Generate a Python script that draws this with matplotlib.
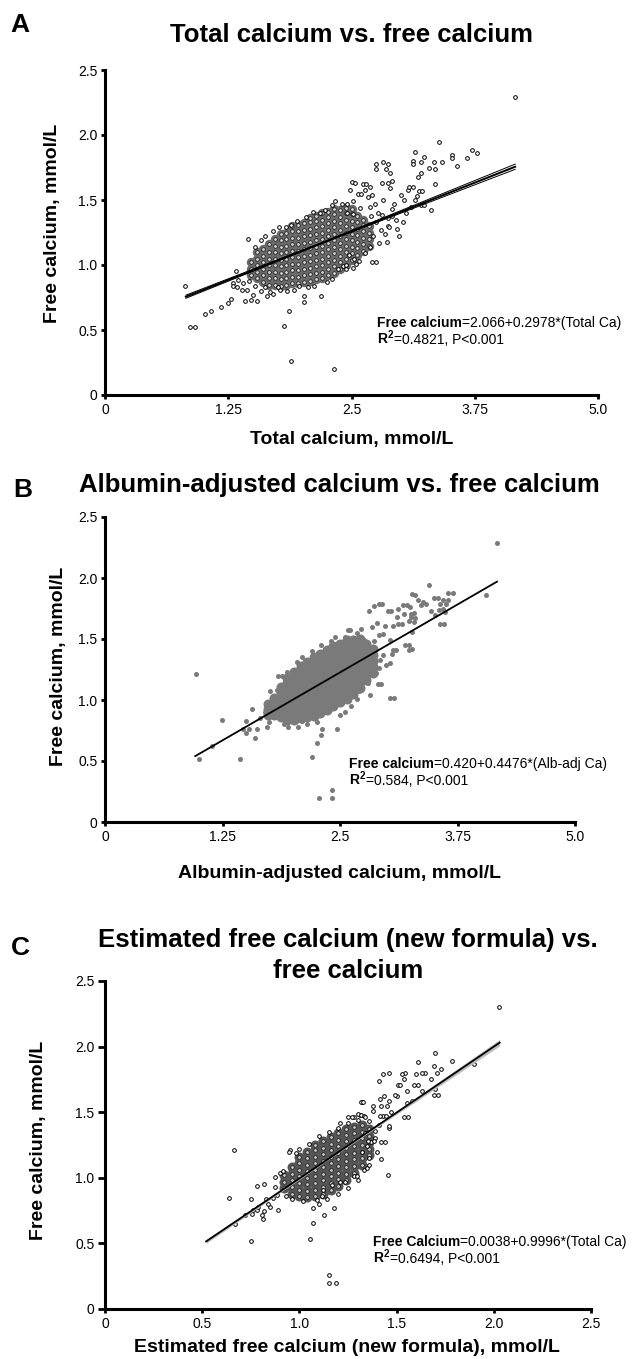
import matplotlib
matplotlib.use('Agg')
import matplotlib.pyplot as plt

plt.rcParams['font.family'] = ['Liberation Sans', 'DejaVu Sans']
plt.rcParams['mathtext.fontset'] = 'custom'
plt.rcParams['mathtext.rm'] = 'Liberation Sans'
plt.rcParams['mathtext.bf'] = 'Liberation Sans:bold'

W, H = 632, 1359

# ---------------- panel A: total calcium vs free calcium ----------------
# dense centre of the cloud, one list of free-Ca values per total-Ca column
a_core_cols = [1.48, 1.54, 1.60, 1.66, 1.72, 1.78, 1.84, 1.90, 1.96, 2.02, 2.08,
               2.14, 2.20, 2.26, 2.32, 2.38, 2.44, 2.50, 2.56, 2.62, 2.68]
a_core_ys = [
    [0.92, 0.97, 1.02],
    [0.90, 0.95, 1.00, 1.05, 1.10],
    [0.87, 0.92, 0.97, 1.02, 1.07, 1.12],
    [0.85, 0.90, 0.95, 1.00, 1.05, 1.10, 1.16],
    [0.85, 0.90, 0.95, 1.00, 1.05, 1.10, 1.15, 1.20],
    [0.84, 0.89, 0.94, 0.99, 1.04, 1.09, 1.14, 1.19, 1.24],
    [0.85, 0.90, 0.95, 1.00, 1.05, 1.10, 1.15, 1.20, 1.25],
    [0.86, 0.91, 0.96, 1.01, 1.06, 1.11, 1.16, 1.21, 1.26, 1.30],
    [0.86, 0.91, 0.96, 1.01, 1.06, 1.11, 1.16, 1.21, 1.26, 1.31],
    [0.87, 0.92, 0.97, 1.02, 1.07, 1.12, 1.17, 1.22, 1.27, 1.32],
    [0.88, 0.93, 0.98, 1.03, 1.08, 1.13, 1.18, 1.23, 1.28, 1.33, 1.36],
    [0.89, 0.94, 0.99, 1.04, 1.09, 1.14, 1.19, 1.24, 1.29, 1.34, 1.38],
    [0.90, 0.95, 1.00, 1.05, 1.10, 1.15, 1.20, 1.25, 1.30, 1.35, 1.40],
    [0.92, 0.97, 1.02, 1.07, 1.12, 1.17, 1.22, 1.27, 1.32, 1.37, 1.41],
    [0.94, 0.99, 1.04, 1.09, 1.14, 1.19, 1.24, 1.29, 1.34, 1.39, 1.43],
    [0.97, 1.02, 1.07, 1.12, 1.17, 1.22, 1.27, 1.32, 1.37, 1.42],
    [1.00, 1.05, 1.10, 1.15, 1.20, 1.25, 1.30, 1.35, 1.40, 1.44],
    [1.04, 1.09, 1.14, 1.19, 1.24, 1.29, 1.34, 1.39, 1.43],
    [1.08, 1.13, 1.18, 1.23, 1.28, 1.33, 1.38],
    [1.11, 1.16, 1.21, 1.26, 1.31, 1.35],
    [1.15, 1.20, 1.25, 1.30],
]
# separate points around the centre
a_x = [0.81, 0.86, 0.91, 1.01, 1.08, 1.18, 1.25, 1.28, 1.33, 1.30, 1.30, 1.35, 1.39, 1.42,
       1.48, 1.54, 1.50, 1.44, 1.34, 1.45, 1.64, 1.67, 1.77, 1.82, 1.87, 1.89, 1.97, 2.02,
       2.02, 2.19, 2.32, 2.41, 2.36, 2.47, 2.44, 2.44, 1.40, 1.46, 1.52, 1.58, 1.62, 1.70,
       1.75, 1.85, 1.92, 2.06, 2.12, 2.25, 2.30, 2.52, 2.58, 1.52, 1.58, 1.62, 1.70, 1.76,
       1.84, 1.89, 1.95, 2.04, 2.11, 2.18, 2.23, 2.30, 2.33, 2.40, 2.45, 2.45, 2.52, 2.52,
       2.48, 2.50, 2.54, 2.57, 2.59, 2.62, 2.65, 2.60, 2.64, 2.67, 2.69, 2.69, 2.71, 2.72,
       2.69, 2.64, 2.53, 2.55, 2.71, 2.75, 2.81, 2.82, 2.81, 2.84, 2.87, 2.87, 2.88, 2.78,
       2.75, 2.89, 2.91, 2.91, 2.98, 3.00, 3.03, 3.07, 3.08, 3.12, 3.16, 3.18, 3.20, 3.22,
       3.24, 3.31, 3.35, 2.75, 2.82, 2.87, 2.75, 2.85, 2.89, 2.91, 2.87, 3.14, 3.24, 3.12,
       3.12, 3.20, 3.34, 3.42, 3.29, 3.35, 3.57, 3.20, 3.17, 3.39, 3.72, 3.77, 3.52, 3.52,
       3.67, 4.16, 2.95, 3.05, 3.10, 2.96, 3.02, 2.93, 3.14, 2.86, 2.80, 2.77, 2.74, 2.70]
a_y = [0.84, 0.52, 0.52, 0.62, 0.65, 0.68, 0.705, 0.74, 0.955, 0.86, 0.84, 0.885, 0.81, 0.72,
       0.73, 0.725, 0.77, 0.81, 0.83, 1.20, 0.76, 0.795, 0.81, 0.53, 0.65, 0.26, 0.84, 0.76,
       0.715, 0.76, 0.20, 0.99, 0.97, 1.08, 1.00, 0.97, 0.86, 0.88, 0.84, 0.80, 0.83, 0.78,
       0.83, 0.80, 0.81, 0.83, 0.84, 0.87, 0.89, 0.98, 1.03, 1.14, 1.19, 1.22, 1.26, 1.29,
       1.29, 1.31, 1.34, 1.37, 1.41, 1.40, 1.42, 1.46, 1.49, 1.47, 1.47, 1.40, 1.39, 1.49,
       1.58, 1.64, 1.63, 1.55, 1.435, 1.62, 1.62, 1.55, 1.58, 1.525, 1.45, 1.60, 1.54, 1.22,
       1.14, 1.09, 1.05, 1.01, 1.02, 1.33, 1.385, 1.50, 1.63, 1.24, 1.30, 1.36, 1.29, 1.17,
       1.025, 1.59, 1.43, 1.38, 1.22, 1.54, 1.50, 1.58, 1.60, 1.60, 1.53, 1.57, 1.46, 1.57,
       1.46, 1.42, 1.62, 1.78, 1.79, 1.78, 1.735, 1.735, 1.705, 1.65, 1.63, 1.87, 1.83, 1.80,
       1.78, 1.79, 1.79, 1.79, 1.75, 1.74, 1.76, 1.705, 1.675, 1.95, 1.885, 1.865, 1.846, 1.826,
       1.82, 2.295, 1.35, 1.40, 1.45, 1.28, 1.33, 1.47, 1.50, 1.18, 1.27, 1.40, 1.47, 1.38]
a_fit_x = [0.82, 2.20, 4.16]
a_fit_y = [0.756, 1.169, 1.756]
a_ci_lo = [0.744, 1.166, 1.736]
a_ci_hi = [0.768, 1.172, 1.776]

# ---------------- panel B: albumin-adjusted calcium vs free calcium ----------------
b_core_cols = [1.73, 1.80, 1.87, 1.94, 2.01, 2.08, 2.15, 2.22, 2.29, 2.36, 2.43,
               2.50, 2.57, 2.64, 2.71, 2.78, 2.85]
b_core_ys = [
    [0.88, 0.93, 0.97],
    [0.88, 0.93, 0.98, 1.02],
    [0.86, 0.91, 0.96, 1.01, 1.06, 1.11],
    [0.84, 0.89, 0.94, 0.99, 1.04, 1.09, 1.14, 1.18],
    [0.84, 0.89, 0.94, 0.99, 1.04, 1.09, 1.14, 1.19, 1.23],
    [0.85, 0.90, 0.95, 1.00, 1.05, 1.10, 1.15, 1.20, 1.25, 1.28],
    [0.86, 0.91, 0.96, 1.01, 1.06, 1.11, 1.16, 1.21, 1.26, 1.31],
    [0.87, 0.92, 0.97, 1.02, 1.07, 1.12, 1.17, 1.22, 1.27, 1.32, 1.35],
    [0.89, 0.94, 0.99, 1.04, 1.09, 1.14, 1.19, 1.24, 1.29, 1.34, 1.38],
    [0.92, 0.97, 1.02, 1.07, 1.12, 1.17, 1.22, 1.27, 1.32, 1.37, 1.41],
    [0.95, 1.00, 1.05, 1.10, 1.15, 1.20, 1.25, 1.30, 1.35, 1.40, 1.44],
    [0.98, 1.03, 1.08, 1.13, 1.18, 1.23, 1.28, 1.33, 1.38, 1.43, 1.46],
    [1.01, 1.06, 1.11, 1.16, 1.21, 1.26, 1.31, 1.36, 1.41, 1.46, 1.49],
    [1.05, 1.10, 1.15, 1.20, 1.25, 1.30, 1.35, 1.40, 1.45, 1.49],
    [1.10, 1.15, 1.20, 1.25, 1.30, 1.35, 1.40, 1.45, 1.50],
    [1.16, 1.21, 1.26, 1.31, 1.36, 1.41, 1.46],
    [1.22, 1.27, 1.32, 1.37, 1.42],
]
b_x = [0.97, 1.00, 1.14, 1.24, 1.44, 1.50, 1.56, 1.53, 1.60, 1.62, 1.72, 1.74, 1.65, 1.50,
       1.47, 1.76, 1.83, 1.88, 1.94, 1.84, 1.99, 2.04, 2.20, 2.26, 2.30, 2.31, 2.47, 2.39,
       2.32, 2.28, 2.41, 2.41, 2.68, 2.80, 2.88, 2.94, 3.03, 3.07, 3.10, 3.23, 3.27, 2.35,
       2.58, 2.61, 2.62, 2.75, 2.86, 2.84, 2.89, 2.98, 3.06, 3.12, 3.16, 2.91, 2.96, 3.03,
       3.19, 3.23, 3.06, 3.05, 2.96, 2.93, 2.99, 2.91, 2.79, 2.90, 2.82, 3.03, 2.75, 2.70,
       2.91, 2.86, 2.81, 3.01, 3.12, 3.17, 3.18, 3.26, 3.23, 3.30, 2.95, 3.04, 3.11, 3.25,
       3.29, 3.27, 3.30, 3.21, 3.29, 3.38, 3.41, 3.36, 3.33, 3.24, 3.27, 3.45, 3.50, 3.54,
       3.56, 3.60, 3.55, 3.65, 3.65, 3.63, 3.70, 3.60, 3.62, 3.61, 3.56, 3.47, 3.51, 4.05,
       4.17, 1.90, 1.95, 2.05, 2.15, 2.10, 2.25, 2.55, 2.62, 2.50, 1.80, 1.70, 1.78, 2.10,
       2.20, 2.30, 2.40, 2.45, 2.55, 2.68, 2.72, 2.66, 2.72, 2.85, 2.80, 2.76, 2.70, 2.85]
b_y = [1.21, 0.52, 0.62, 0.84, 0.52, 0.83, 0.93, 0.76, 0.69, 0.76, 0.78, 0.82, 0.85, 0.73,
       0.76, 1.07, 1.08, 1.20, 1.23, 1.20, 1.24, 1.31, 0.53, 0.65, 0.71, 0.76, 0.76, 0.93,
       0.93, 0.20, 0.20, 0.26, 1.01, 1.14, 1.22, 1.13, 1.30, 1.02, 1.41, 1.45, 1.42, 1.415,
       1.57, 1.57, 1.49, 1.49, 1.48, 1.60, 1.63, 1.61, 1.61, 1.62, 1.625, 1.53, 1.54, 1.49,
       1.45, 1.41, 1.41, 1.38, 1.37, 1.33, 1.29, 1.26, 1.27, 1.13, 1.04, 1.02, 1.17, 1.07,
       1.79, 1.77, 1.73, 1.73, 1.745, 1.78, 1.705, 1.705, 1.65, 1.67, 1.79, 1.73, 1.68, 1.68,
       1.64, 1.56, 1.86, 1.78, 1.71, 1.80, 1.79, 1.78, 1.82, 1.765, 1.87, 1.94, 1.84, 1.84,
       1.79, 1.82, 1.74, 1.88, 1.82, 1.79, 1.875, 1.75, 1.72, 1.62, 1.62, 1.73, 1.70, 1.86,
       2.29, 0.80, 0.78, 0.78, 0.80, 0.83, 0.82, 0.90, 0.95, 0.88, 0.86, 0.90, 0.95, 1.35,
       1.40, 1.45, 1.48, 1.52, 1.52, 1.55, 1.58, 1.44, 1.40, 1.40, 1.32, 1.22, 1.12, 1.25]
b_fit_x = [0.96, 4.17]
b_fit_y = [0.54, 1.97]

# ---------------- panel C: estimated free calcium vs free calcium ----------------
c_core_cols = [0.92, 0.96, 1.00, 1.04, 1.08, 1.12, 1.16, 1.20, 1.24, 1.28, 1.32, 1.36]
c_core_ys = [
    [0.92, 0.97, 1.02],
    [0.88, 0.93, 0.98, 1.03, 1.08],
    [0.86, 0.91, 0.96, 1.01, 1.06, 1.11, 1.16],
    [0.85, 0.90, 0.95, 1.00, 1.05, 1.10, 1.15, 1.20],
    [0.86, 0.91, 0.96, 1.01, 1.06, 1.11, 1.16, 1.21, 1.25],
    [0.88, 0.93, 0.98, 1.03, 1.08, 1.13, 1.18, 1.23, 1.28],
    [0.91, 0.96, 1.01, 1.06, 1.11, 1.16, 1.21, 1.26, 1.31],
    [0.94, 0.99, 1.04, 1.09, 1.14, 1.19, 1.24, 1.29, 1.34],
    [0.98, 1.03, 1.08, 1.13, 1.18, 1.23, 1.28, 1.33, 1.37],
    [1.04, 1.09, 1.14, 1.19, 1.24, 1.29, 1.34, 1.39],
    [1.10, 1.15, 1.20, 1.25, 1.30, 1.35, 1.40],
    [1.17, 1.22, 1.27, 1.32, 1.37],
]
c_x = [2.026, 1.70, 1.61, 1.785, 1.90, 1.69, 1.73, 1.71, 1.645, 1.545, 1.46, 1.60, 1.63, 1.675,
       1.53, 1.54, 1.505, 1.59, 1.555, 1.50, 1.49, 1.69, 1.43, 1.41, 1.435, 1.415, 1.46, 1.45,
       1.42, 1.47, 1.43, 1.54, 1.32, 1.38, 1.38, 1.28, 1.31, 1.41, 1.42, 1.46, 1.39, 1.37,
       1.35, 1.32, 1.556, 1.10, 0.95, 0.665, 0.638, 0.75, 0.67, 0.75, 0.72, 0.755, 0.763, 0.78,
       0.785, 0.78, 0.82, 0.806, 0.814, 0.82, 0.85, 0.83, 0.84, 0.866, 0.883, 0.89, 0.875, 0.875,
       0.90, 0.917, 0.948, 0.98, 1.07, 1.18, 1.127, 1.07, 1.055, 1.15, 1.15, 1.19, 1.09, 1.115,
       1.12, 1.166, 1.21, 1.235, 1.28, 1.33, 1.36, 1.355, 1.315, 1.30, 1.315, 1.33, 1.27, 1.21,
       1.296, 1.457, 1.42, 1.35, 1.44, 1.557, 1.714, 1.58, 1.61, 1.70, 1.63, 1.52, 1.383, 1.463,
       1.446, 1.415, 1.327, 1.30, 1.34, 1.36, 1.20, 1.25, 1.15, 1.05, 1.00, 0.93, 0.96, 1.02,
       1.10, 1.14, 1.20, 1.25, 1.30, 1.36, 1.40, 1.39, 1.34, 1.25]
c_y = [2.30, 1.955, 1.88, 1.89, 1.87, 1.85, 1.83, 1.80, 1.80, 1.795, 1.795, 1.79, 1.80, 1.75,
       1.79, 1.755, 1.71, 1.71, 1.66, 1.62, 1.63, 1.63, 1.79, 1.74, 1.62, 1.60, 1.585, 1.55,
       1.55, 1.50, 1.47, 1.46, 1.58, 1.55, 1.51, 1.465, 1.48, 1.40, 1.27, 1.38, 1.305, 1.27,
       1.245, 1.195, 1.57, 1.32, 1.21, 1.215, 0.846, 0.52, 0.65, 0.84, 0.72, 0.724, 0.757, 0.757,
       0.78, 0.935, 0.95, 0.72, 0.685, 0.745, 0.78, 0.84, 0.80, 0.846, 0.87, 0.757, 0.93, 1.007,
       1.037, 1.05, 1.20, 1.19, 0.77, 0.77, 0.72, 0.655, 0.533, 0.262, 0.20, 0.20, 0.833, 0.86,
       0.91, 0.948, 0.97, 0.97, 1.01, 1.06, 1.15, 1.28, 1.58, 1.49, 1.475, 1.47, 1.465, 1.42,
       1.01, 1.025, 1.14, 1.075, 1.27, 1.46, 1.63, 1.585, 1.71, 1.675, 1.66, 1.705, 1.28, 1.395,
       1.47, 1.47, 1.58, 1.44, 1.46, 1.43, 1.38, 1.42, 1.35, 1.26, 1.22, 0.86, 0.84, 0.82,
       0.80, 0.84, 0.88, 0.92, 0.98, 1.10, 1.20, 1.36, 1.34, 1.46]
c_fit_x = [0.52, 1.15, 2.03]
c_fit_y = [0.515, 1.145, 2.03]
c_ci_lo = [0.500, 1.140, 2.005]
c_ci_hi = [0.530, 1.150, 2.055]

ca_ticks = [0, 1.25, 2.5, 3.75, 5.0]
ca_ticklabels = ['0', '1.25', '2.5', '3.75', '5.0']
est_ticks = [0, 0.5, 1.0, 1.5, 2.0, 2.5]
est_ticklabels = ['0', '0.5', '1.0', '1.5', '2.0', '2.5']
free_ticks = [0, 0.5, 1.0, 1.5, 2.0, 2.5]
free_ticklabels = ['0', '0.5', '1.0', '1.5', '2.0', '2.5']


def flatten(cols, ys):
    xs, vals = [], []
    for c, col in zip(cols, ys):
        for v in col:
            xs.append(c)
            vals.append(v)
    return xs, vals


fig = plt.figure(figsize=(W / 100, H / 100), dpi=100)


def px_axes(left, top, right, bottom):
    return fig.add_axes([left / W, 1 - bottom / H, (right - left) / W, (bottom - top) / H])


def ftext(x, y, s, **kw):
    return fig.text(x / W, 1 - y / H, s, **kw)


def style(ax, xticks, xlabels, xmax, ylen=3):
    ax.set_xlim(0, xmax)
    ax.set_ylim(0, 2.5)
    ax.set_xticks(xticks)
    ax.set_xticklabels(xlabels)
    ax.set_yticks(free_ticks)
    ax.set_yticklabels(free_ticklabels)
    for s in ['top', 'right']:
        ax.spines[s].set_visible(False)
    for s in ['left', 'bottom']:
        ax.spines[s].set_linewidth(2.2)
    ax.tick_params(axis='x', length=3, width=2, labelsize=10, pad=3)
    ax.tick_params(axis='y', length=ylen, width=2, labelsize=10, pad=2.5)


def equation(ax, x, y1, y2, bold1, rest1, rest2):
    t1 = ftext(x, y1, bold1, fontsize=10, fontweight='bold', va='bottom')
    ax.annotate(rest1, xy=(1, 0), xycoords=t1, fontsize=10, va='bottom', annotation_clip=False)
    t2 = ftext(x, y2, r'R$^{\mathbf{2}}$', fontsize=10, fontweight='bold', va='bottom')
    ax.annotate(rest2, xy=(1, 0), xycoords=t2, fontsize=10, va='bottom', annotation_clip=False)


# ---- A ----
axA = px_axes(105, 70, 598, 395)
cx, cy = flatten(a_core_cols, a_core_ys)
axA.scatter(cx, cy, s=46, color='#6a6a6a', linewidths=0, zorder=2)
axA.scatter(cx, cy, s=7, facecolors='#d8d8d8', edgecolors='#222222', linewidths=0.6, zorder=2.5)
axA.scatter(a_x, a_y, s=7, facecolors='white', edgecolors='black', linewidths=0.7, zorder=3)
axA.plot(a_fit_x, a_ci_lo, color='black', lw=0.7, zorder=4)
axA.plot(a_fit_x, a_ci_hi, color='black', lw=0.7, zorder=4)
axA.plot(a_fit_x, a_fit_y, color='black', lw=1.4, zorder=4)
style(axA, ca_ticks, ca_ticklabels, 5.0)
ftext(20, 25, 'A', fontsize=19, fontweight='bold', ha='center', va='center')
ftext(351, 35, 'Total calcium vs. free calcium', fontsize=18.5, fontweight='bold',
      ha='center', va='center')
ftext(352, 440, 'Total calcium, mmol/L', fontsize=14, fontweight='bold', ha='center', va='center')
ftext(53, 223, 'Free calcium, mmol/L', fontsize=14, fontweight='bold', ha='center', va='center',
      rotation=90)
equation(axA, 377, 330, 347, 'Free calcium', '=2.066+0.2978*(Total Ca)', '=0.4821, P<0.001')

# ---- B ----
axB = px_axes(105, 517, 575, 822)
cx, cy = flatten(b_core_cols, b_core_ys)
axB.scatter(cx, cy, s=52, color='#7a7a7a', linewidths=0, zorder=2)
axB.scatter(b_x, b_y, s=13, color='#7a7a7a', linewidths=0, zorder=3)
axB.plot(b_fit_x, b_fit_y, color='black', lw=1.3, zorder=4)
style(axB, ca_ticks, ca_ticklabels, 5.0)
ftext(23, 490, 'B', fontsize=19, fontweight='bold', ha='center', va='center')
ftext(339, 485, 'Albumin-adjusted calcium vs. free calcium', fontsize=18.5, fontweight='bold',
      ha='center', va='center')
ftext(340, 873, 'Albumin-adjusted calcium, mmol/L', fontsize=14, fontweight='bold',
      ha='center', va='center')
ftext(58, 666, 'Free calcium, mmol/L', fontsize=14, fontweight='bold', ha='center', va='center',
      rotation=90)
equation(axB, 349, 771, 788, 'Free calcium', '=0.420+0.4476*(Alb-adj Ca)', '=0.584, P<0.001')

# ---- C ----
axC = px_axes(105, 981, 591, 1309)
cx, cy = flatten(c_core_cols, c_core_ys)
axC.scatter(cx, cy, s=52, color='#555555', linewidths=0, zorder=2)
axC.scatter(cx, cy, s=7, facecolors='#cccccc', edgecolors='#222222', linewidths=0.6, zorder=2.5)
axC.scatter(c_x, c_y, s=7, facecolors='white', edgecolors='black', linewidths=0.7, zorder=3)
axC.fill_between(c_fit_x, c_ci_lo, c_ci_hi, color='#bdbdbd', lw=0, zorder=4)
axC.plot(c_fit_x, c_fit_y, color='black', lw=1.3, zorder=5)
style(axC, est_ticks, est_ticklabels, 2.5, ylen=5)
ftext(20, 948, 'C', fontsize=19, fontweight='bold', ha='center', va='center')
ftext(348, 940, 'Estimated free calcium (new formula) vs.', fontsize=18.5, fontweight='bold',
      ha='center', va='center')
ftext(348, 971, 'free calcium', fontsize=18.5, fontweight='bold', ha='center', va='center')
ftext(347, 1347, 'Estimated free calcium (new formula), mmol/L', fontsize=14, fontweight='bold',
      ha='center', va='center')
ftext(39, 1140, 'Free calcium, mmol/L', fontsize=14, fontweight='bold', ha='center', va='center',
      rotation=90)
equation(axC, 373, 1249, 1266, 'Free Calcium', '=0.0038+0.9996*(Total Ca)', '=0.6494, P<0.001')

fig.savefig('out.png', dpi=100)
